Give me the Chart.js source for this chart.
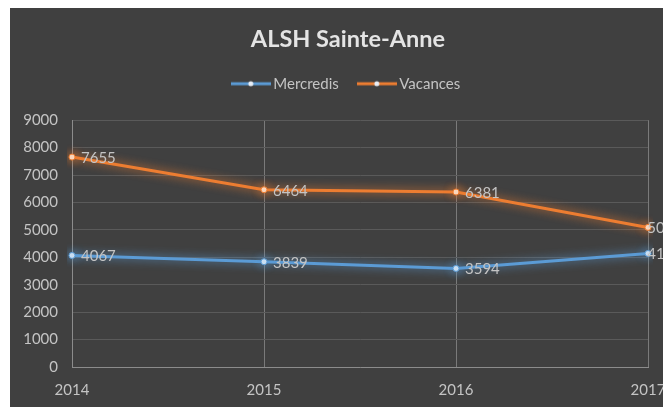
<!DOCTYPE html>
<html>
<head>
<meta charset="utf-8">
<script src="https://cdn.jsdelivr.net/npm/chart.js@4/dist/chart.umd.min.js"></script>
<style>
  html, body { margin: 0; padding: 0; background: #fff; overflow: hidden; }
  #wrap { position: absolute; left: 10px; top: 8px; width: 676px; height: 400px; background: #404040; }
</style>
</head>
<body>
<div id="wrap"><canvas id="chart" width="676" height="400"></canvas></div>
<script>
const years = ["2014", "2015", "2016", "2017"];
const mercredis = [4067, 3839, 3594, 4140];
const vacances = [7655, 6464, 6381, 5090];

const FONT = "Lato, 'Open Sans', sans-serif";
const BLUE = "#5b9bd5";
const ORANGE = "#ed7d31";
const TEXT = "#c4c4c4";

// legend marker: short line with a dot in the middle
function legendMarker(color) {
  const c = document.createElement("canvas");
  c.width = 40; c.height = 8;
  const g = c.getContext("2d");
  g.strokeStyle = color;
  g.lineWidth = 3;
  g.beginPath(); g.moveTo(0, 4); g.lineTo(40, 4); g.stroke();
  g.fillStyle = "#e8eef6";
  g.beginPath(); g.arc(20, 4, 2.5, 0, Math.PI * 2); g.fill();
  return c;
}

// soft glow under each line
const glow = {
  id: "glow",
  beforeDatasetDraw(chart, args) {
    const ctx = chart.ctx;
    ctx.save();
    ctx.shadowColor = chart.data.datasets[args.index].borderColor;
    ctx.shadowBlur = 10;
  },
  afterDatasetDraw(chart) {
    chart.ctx.restore();
  }
};

// value printed to the right of every point, kept inside the canvas
const valueLabels = {
  id: "valueLabels",
  afterDatasetsDraw(chart) {
    const ctx = chart.ctx;
    ctx.save();
    ctx.font = "15px " + FONT;
    ctx.fillStyle = TEXT;
    ctx.textAlign = "left";
    ctx.textBaseline = "middle";
    chart.data.datasets.forEach((ds, i) => {
      chart.getDatasetMeta(i).data.forEach((pt, j) => {
        const txt = String(ds.data[j]);
        const w = ctx.measureText(txt).width;
        const x = Math.min(pt.x + 9, chart.width - w - 4);
        ctx.fillText(txt, x, pt.y + 1);
      });
    });
    ctx.restore();
  }
};

new Chart(document.getElementById("chart"), {
  type: "line",
  data: {
    labels: years,
    datasets: [
      {
        label: "Mercredis",
        data: mercredis,
        borderColor: BLUE,
        borderWidth: 3,
        pointRadius: 3,
        pointBorderWidth: 1,
        pointBackgroundColor: "#d6e6f5",
        pointBorderColor: BLUE,
        tension: 0
      },
      {
        label: "Vacances",
        data: vacances,
        borderColor: ORANGE,
        borderWidth: 3,
        pointRadius: 3,
        pointBorderWidth: 1,
        pointBackgroundColor: "#fbe0cc",
        pointBorderColor: ORANGE,
        tension: 0
      }
    ]
  },
  options: {
    responsive: false,
    animation: false,
    plugins: {
      title: {
        display: true,
        text: "ALSH Sainte-Anne",
        color: "#e4e4e4",
        font: { family: FONT, size: 23.5, weight: "bold" },
        padding: { top: 17, bottom: 0 }
      },
      // empty spacer between legend and plot
      subtitle: {
        display: true,
        text: "",
        weight: 500,
        font: { size: 1, lineHeight: 1 },
        padding: { top: 18, bottom: 0 }
      },
      legend: {
        position: "top",
        labels: {
          color: TEXT,
          font: { family: FONT, size: 15 },
          usePointStyle: true,
          pointStyleWidth: 30,
          padding: 23,
          generateLabels(chart) {
            return chart.data.datasets.map((ds, i) => ({
              text: ds.label,
              pointStyle: legendMarker(ds.borderColor),
              fillStyle: ds.borderColor,
              strokeStyle: ds.borderColor,
              lineWidth: 0,
              fontColor: TEXT,
              datasetIndex: i
            }));
          }
        }
      },
      tooltip: { enabled: false }
    },
    scales: {
      x: {
        offset: false,
        grid: { color: "#7a7a7a", drawTicks: false },
        border: { color: "#8c8c8c" },
        ticks: { color: TEXT, font: { family: FONT, size: 15 }, padding: 14 },
        afterFit(scale) {
          scale.height = 41;
          scale.paddingRight = 38;
        }
      },
      y: {
        min: 0,
        max: 9000,
        grid: { color: "#5a5a5a", drawTicks: false },
        border: { color: "#8c8c8c" },
        ticks: {
          stepSize: 1000,
          color: TEXT,
          font: { family: FONT, size: 15 },
          padding: 14,
          callback: v => String(v)
        },
        afterFit(scale) { scale.width = 62; }
      }
    }
  },
  plugins: [glow, valueLabels]
});
</script>
</body>
</html>
